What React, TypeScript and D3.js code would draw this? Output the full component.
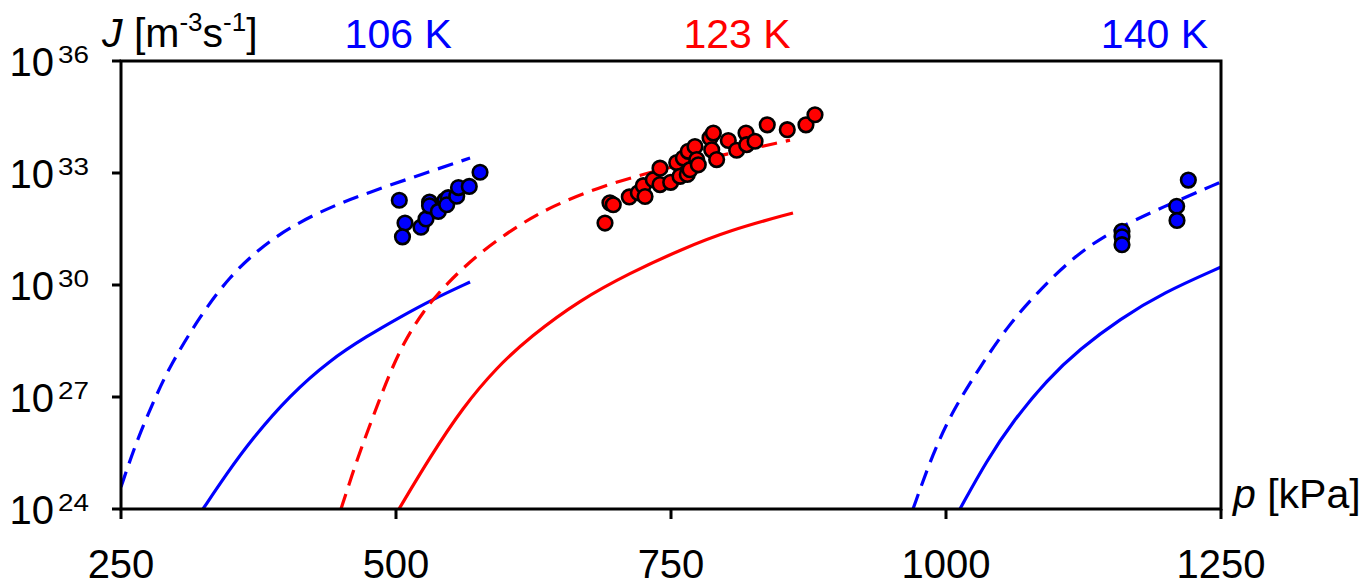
import React from "react";
import * as d3 from "d3";

// Nucleation rate J vs pressure p at three temperatures.
// Curves and points are stored as log10(J).

// 106 K
const p106Dashed = [250, 264.5, 280.9, 294.5, 321.8, 349.1, 376.4, 403.6, 440, 476.4, 521.8, 567.3];
const j106Dashed = [24.59, 25.85, 26.97, 27.83, 29.17, 30.24, 30.99, 31.55, 32.09, 32.49, 32.95, 33.4];
const p106Solid = [324.5, 346.4, 369.1, 403.6, 440, 473.6, 503.6, 533.6, 567.3];
const j106Solid = [24.0, 24.96, 25.88, 27.05, 27.99, 28.63, 29.14, 29.62, 30.08];
const p106Points = [503.0, 508.2, 505.9, 522.7, 527.3, 530.5, 530.5, 538.5, 544.5, 547.5, 546.1, 555.2, 556.8, 566.6, 576.4];
const j106Points = [32.27, 31.66, 31.29, 31.55, 31.77, 32.22, 32.12, 31.97, 32.27, 32.34, 32.15, 32.38, 32.61, 32.64, 33.02];

// 123 K
const p123Dashed = [450, 460, 469.1, 485.5, 494.5, 506.4, 524.5, 546.4, 576.4, 612.7, 642.7, 682.7, 728.2, 776.4, 858.2];
const j123Dashed = [24.0, 24.91, 25.69, 26.97, 27.64, 28.42, 29.3, 30.05, 30.88, 31.63, 32.12, 32.6, 33.0, 33.35, 33.88];
const p123Solid = [502.7, 530.9, 560.9, 591.8, 621.8, 667.3, 712.7, 758.2, 803.6, 860.9];
const j123Solid = [24.0, 25.39, 26.73, 27.8, 28.61, 29.6, 30.32, 30.94, 31.47, 31.93];
const p123Points = [
  690.0, 694.5, 697.5, 712.1, 720.3, 724.8, 726.4, 733.9, 740.0, 740.0, 749.7, 755.2, 758.2, 761.2, 764.8, 765.7,
  767.3, 771.8, 773.4, 774.8, 785.5, 788.5, 787.0, 791.5, 802.1, 809.7, 818.2, 818.8, 826.4, 837.5, 855.7, 872.7, 880.9,
];
const j123Points = [
  31.66, 32.2, 32.15, 32.36, 32.47, 32.66, 32.37, 32.82, 33.13, 32.69, 32.75, 33.28, 32.91, 33.4, 32.96, 33.58,
  33.09, 33.71, 33.36, 33.22, 33.94, 34.07, 33.62, 33.36, 33.87, 33.61, 34.07, 33.76, 33.85, 34.29, 34.16, 34.29, 34.56,
];

// 140 K
const p140Dashed = [970, 988.2, 1006.4, 1030.9, 1055.5, 1082.7, 1115.5, 1151.8, 1197.3, 1250];
const j140Dashed = [24.0, 25.5, 26.65, 27.8, 28.88, 29.79, 30.75, 31.47, 32.09, 32.76];
const p140Solid = [1012.7, 1037.3, 1060.9, 1091.8, 1121.8, 1158.2, 1197.3, 1250];
const j140Solid = [24.0, 25.31, 26.35, 27.46, 28.29, 29.09, 29.79, 30.48];
const p140Points = [1160, 1160, 1160, 1209.7, 1210, 1220.3];
const j140Points = [31.44, 31.29, 31.08, 32.11, 31.73, 32.81];

const xTicks = [250, 500, 750, 1000, 1250];
const yTickExponents = [24, 27, 30, 33, 36];
const tempLabels = ["106 K", "123 K", "140 K"];
const tempLabelP = [502, 810, 1189.5];

const BLUE = "#0000ff";
const RED = "#ff0000";
const FONT = "'Liberation Sans', Arial, sans-serif";

const W = 1367;
const H = 585;
const x = d3.scaleLinear().domain([250, 1250]).range([121, 1221]);
const y = d3.scaleLog().domain([1e24, 1e36]).range([509, 61]);

const zip = (ps: number[], js: number[]) => ps.map((p, i) => [p, js[i]] as [number, number]);

const line = d3
  .line<[number, number]>()
  .x((d) => x(d[0]))
  .y((d) => y(Math.pow(10, d[1])))
  .curve(d3.curveBasis);

const curves = [
  { data: zip(p106Dashed, j106Dashed), color: BLUE, dashed: true },
  { data: zip(p106Solid, j106Solid), color: BLUE, dashed: false },
  { data: zip(p123Dashed, j123Dashed), color: RED, dashed: true },
  { data: zip(p123Solid, j123Solid), color: RED, dashed: false },
  { data: zip(p140Dashed, j140Dashed), color: BLUE, dashed: true },
  { data: zip(p140Solid, j140Solid), color: BLUE, dashed: false },
];

const pointSets = [
  { data: zip(p106Points, j106Points), color: BLUE },
  { data: zip(p140Points, j140Points), color: BLUE },
  { data: zip(p123Points, j123Points), color: RED },
];

export default function App() {
  const [x0, x1] = x.range();
  const [yb, yt] = y.range();
  return (
    <svg
      width={W}
      height={H}
      style={{ position: "absolute", left: 0, top: 0, background: "#fff" }}
      fontFamily={FONT}
    >
      <defs>
        <clipPath id="plot-area">
          <rect x={x0} y={yt} width={x1 - x0} height={yb - yt} />
        </clipPath>
      </defs>
      <rect width={W} height={H} fill="#fff" />

      <g clipPath="url(#plot-area)">
        {curves.map((c, i) => (
          <path
            key={i}
            d={line(c.data) ?? ""}
            fill="none"
            stroke={c.color}
            strokeWidth={3.2}
            strokeDasharray={c.dashed ? "16 9" : undefined}
          />
        ))}
      </g>

      {pointSets.map((s, i) => (
        <g key={i}>
          {s.data.map((d, j) => (
            <circle
              key={j}
              cx={x(d[0])}
              cy={y(Math.pow(10, d[1]))}
              r={7.3}
              fill={s.color}
              stroke="#000"
              strokeWidth={2.6}
            />
          ))}
        </g>
      ))}

      {/* frame */}
      <path
        d={`M${x0},${yt}H${x1}V${yb}H${x0}Z`}
        fill="none"
        stroke="#000"
        strokeWidth={3}
      />

      {/* y ticks */}
      {yTickExponents.map((e) => {
        const py = y(Math.pow(10, e));
        return (
          <g key={e}>
            <line x1={x0 - 9} x2={x0} y1={py} y2={py} stroke="#000" strokeWidth={3} />
            <text x={54} y={py + 15} textAnchor="end" fontSize={40}>
              10
            </text>
            <text x={58} y={py + 2} fontSize={23} textLength={31} lengthAdjust="spacingAndGlyphs">
              {e}
            </text>
          </g>
        );
      })}

      {/* x ticks */}
      {xTicks.map((t) => (
        <g key={t}>
          <line x1={x(t)} x2={x(t)} y1={yb} y2={yb + 10} stroke="#000" strokeWidth={3} />
          <text x={x(t)} y={578} textAnchor="middle" fontSize={40}>
            {t}
          </text>
        </g>
      ))}

      {/* axis titles */}
      <text x={102} y={47} fontSize={41}>
        <tspan fontStyle="italic">J</tspan>
        <tspan> [m</tspan>
        <tspan fontSize={26} dy={-16}>-3</tspan>
        <tspan dy={16}>s</tspan>
        <tspan fontSize={26} dy={-16}>-1</tspan>
        <tspan dy={16}>]</tspan>
      </text>
      <text x={1233} y={508} fontSize={41}>
        <tspan fontStyle="italic">p</tspan>
        <tspan> [kPa]</tspan>
      </text>

      {/* temperature labels */}
      {tempLabels.map((t, i) => (
        <text
          key={t}
          x={x(tempLabelP[i])}
          y={48}
          textAnchor="middle"
          fontSize={41}
          fill={i === 1 ? RED : BLUE}
        >
          {t}
        </text>
      ))}
    </svg>
  );
}
